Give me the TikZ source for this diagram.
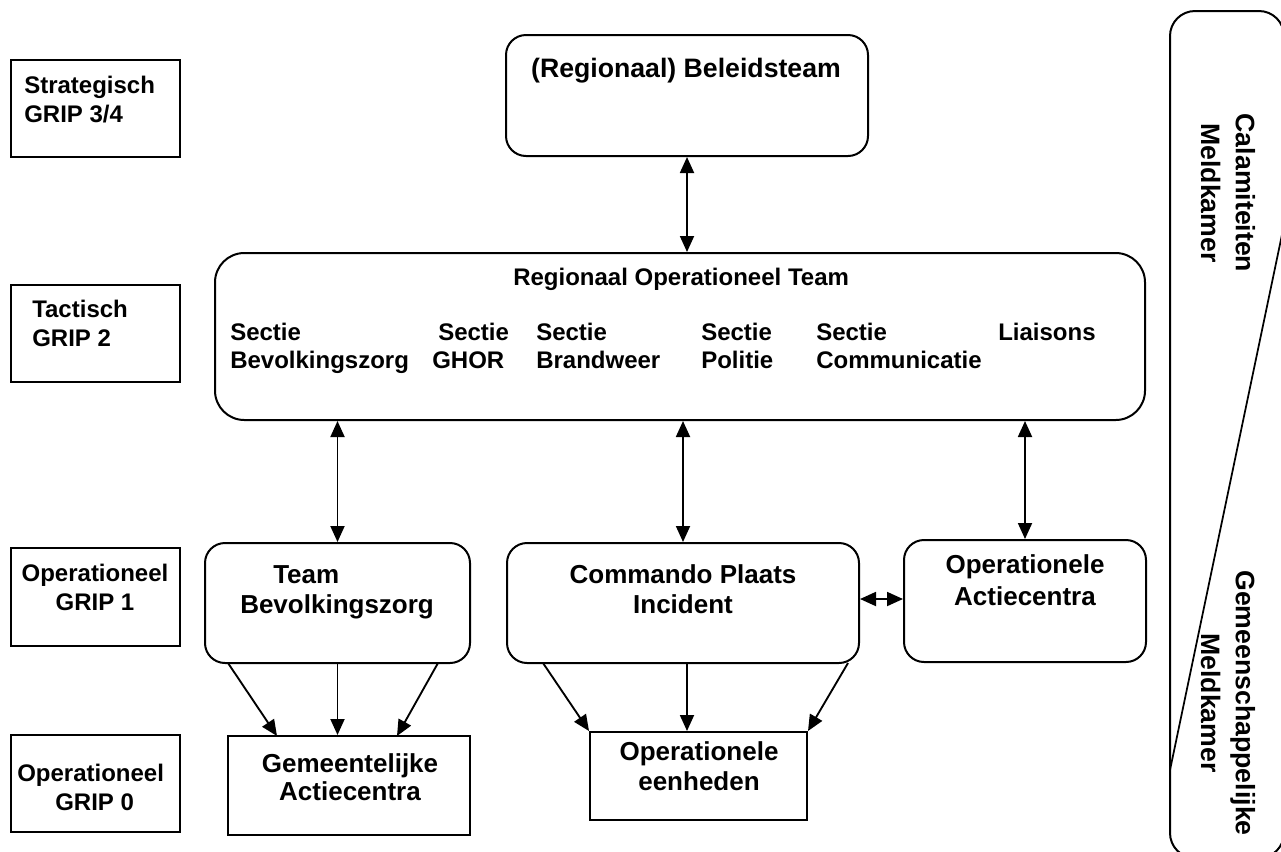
\documentclass[tikz,border=0pt]{standalone}
\usepackage{fontspec}
\setmainfont{Liberation Sans}
\usetikzlibrary{arrows.meta,fit}
\begin{document}
\begin{tikzpicture}[x=0.75pt,y=-0.75pt,
  box/.style={draw, line width=1.5pt, inner sep=0pt},
  rbox/.style={box, rounded corners=15pt},
  lbl/.style={inner sep=0pt, font=\bfseries\fontsize{18}{21.75}\selectfont},
  rotlbl/.style={inner sep=0pt, font=\bfseries\fontsize{18}{21}\selectfont},
  biglbl/.style={inner sep=0pt, font=\bfseries\fontsize{19.5}{22.5}\selectfont},
  sidelbl/.style={inner sep=0pt, rotate=-90, align=center, font=\bfseries\fontsize{20}{26}\selectfont},
  tip/.tip={Triangle[length=12pt,width=10.5pt]},
  dbl/.style={line width=1.4pt, tip-tip},
  one/.style={line width=1.4pt, -tip}]
\useasboundingbox (0,0) rectangle (1281,851);

% level boxes (left)
\node[box, fit={(11,60)(180,157)}] (s1) {};
\node[box, fit={(11,285)(180,382)}] (s2) {};
\node[box, fit={(11,548)(180,646)}] (s3) {};
\node[box, fit={(11,735)(180,832)}] (s4) {};
\node[lbl, anchor=base west, align=left] (t1) at (24,122) {Strategisch\\GRIP 3/4};
\node[lbl, anchor=base west, align=left] (t2) at (32,346) {Tactisch\\GRIP 2};
\node[lbl, anchor=base, align=center] (t3) at (95,610) {Operationeel\\GRIP 1};
\node[lbl, anchor=base west, align=left] (t4) at (17,810) {Operationeel\\\hspace*{28.5pt}GRIP 0};

% right panel
\node[box, rounded corners=18.75pt, fit={(1170,11)(1284,858)}] (rp) {};
\coordinate (d1) at (1284,225);
\coordinate (d2) at (1170,770);
\draw[line width=1.3pt] (d1) -- (d2);
\node[sidelbl] (cm) at (1228,193) {Calamiteiten\\Meldkamer};
\node[sidelbl] (gm) at (1228,703) {Gemeenschappelijke\\Meldkamer};

% Beleidsteam
\node[rbox, fit={(506,35)(868,156)}] (bt) {};
\node[inner sep=0pt, anchor=base, font=\bfseries\fontsize{20}{23}\selectfont] (btl) at (686,77) {(Regionaal) Beleidsteam};

% ROT
\node[box, rounded corners=22pt, fit={(215,253)(1145,420)}] (rot) {};
\node[rotlbl, anchor=base west] (rotl) at (513,285) {Regionaal Operationeel Team};
\node[rotlbl, anchor=base west, align=left] (sb) at (230,368) {Sectie\\Bevolkingszorg};
\node[rotlbl, anchor=base west, align=left] (sg) at (432,368) {\hspace*{4.5pt}Sectie\\GHOR};
\node[rotlbl, anchor=base west, align=left] (sbr) at (536,368) {Sectie\\Brandweer};
\node[rotlbl, anchor=base west, align=left] (sp) at (701,368) {Sectie\\Politie};
\node[rotlbl, anchor=base west, align=left] (sc) at (816,368) {Sectie\\Communicatie};
\node[rotlbl, anchor=base west] (li) at (998,340) {Liaisons};

% operational level
\node[rbox, fit={(205,543)(470,663)}] (tb) {};
\node[biglbl, anchor=base west, align=left] (tbl) at (240,613) {\hspace*{24.75pt}Team\\Bevolkingszorg};
\node[rbox, fit={(507,543)(859,663)}] (cpi) {};
\node[biglbl, anchor=base, align=center] (cpil) at (683,613) {Commando Plaats\\Incident};
\node[rbox, fit={(904,540)(1146,662)}] (oa) {};
\node[biglbl, anchor=base, align=center, font=\bfseries\fontsize{19.5}{24}\selectfont] (oal) at (1025,605) {Operationele\\Actiecentra};

% GRIP 0 level
\node[box, fit={(228,736)(470,835)}] (ga) {};
\node[biglbl, anchor=base, align=center, font=\bfseries\fontsize{19.5}{21}\selectfont] (gal) at (350,800) {Gemeentelijke\\Actiecentra};
\node[box, fit={(590,732)(807,820)}] (oe) {};
\node[biglbl, anchor=base, align=center] (oel) at (699,790) {Operationele\\eenheden};

% connectors
\draw[dbl] (bt.south) -- (bt.south |- rot.north);
\draw[dbl] (rot.south -| tb.north) -- (tb.north);
\draw[dbl] (rot.south -| 683,0) -- (683,0 |- cpi.north);
\draw[dbl] (rot.south -| oa.north) -- (oa.north);
\draw[dbl] (cpi.east |- 0,599) -- (oa.west |- 0,599);

\coordinate (tb1) at (228,663);
\coordinate (tb3) at (438,663);
\coordinate (ga1) at (277,736);
\coordinate (ga3) at (397,736);
\draw[one] (tb1) -- (ga1);
\draw[one] (tb.south) -- (tb.south |- ga.north);
\draw[one] (tb3) -- (ga3);

\coordinate (cp1) at (543,663);
\coordinate (cp3) at (848,663);
\coordinate (cp2) at (687,663);
\draw[one] (cp1) -- (oe.north west);
\draw[one] (cp2) -- (cp2 |- oe.north);
\draw[one] (cp3) -- (oe.north east);
\end{tikzpicture}
\end{document}
